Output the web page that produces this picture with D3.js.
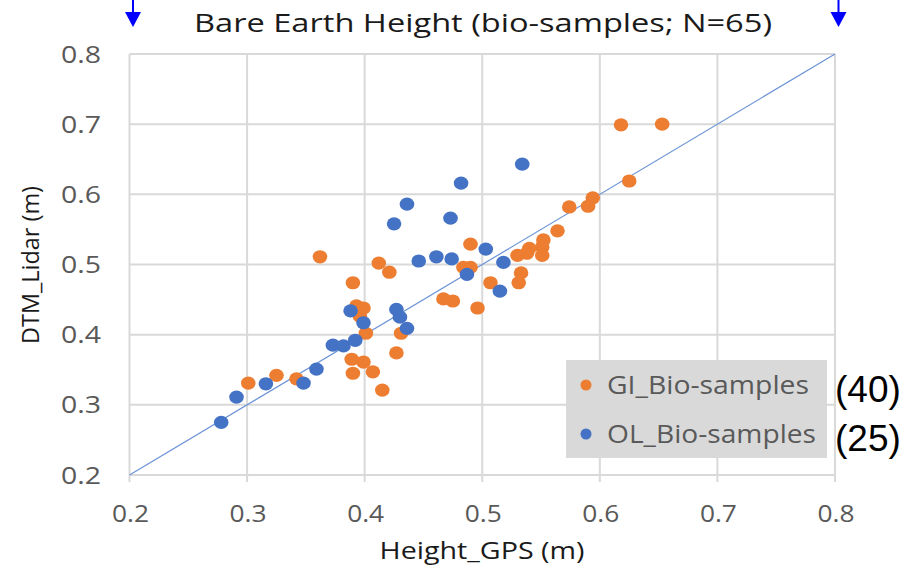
<!DOCTYPE html>
<html lang="en">
<head>
<meta charset="UTF-8">
<title>Bare Earth Height</title>
<script src="https://d3js.org/d3.v7.min.js"></script>
<style>
  body { margin: 0; background: #fff; }
  svg { display: block; }
</style>
</head>
<body>
<svg width="913" height="569"></svg>
<script>
// GI bio-samples (orange), [Height_GPS, DTM_Lidar]
const giX = [0.618, 0.653, 0.625, 0.594, 0.590, 0.574, 0.564, 0.552, 0.551, 0.540,
             0.538, 0.530, 0.551, 0.533, 0.531, 0.507, 0.490, 0.484, 0.490, 0.467,
             0.475, 0.496, 0.362, 0.412, 0.421, 0.390, 0.393, 0.399, 0.396, 0.401,
             0.431, 0.427, 0.389, 0.399, 0.390, 0.407, 0.415, 0.301, 0.325, 0.342];
const giY = [0.699, 0.700, 0.619, 0.595, 0.583, 0.582, 0.548, 0.535, 0.525, 0.523,
             0.516, 0.513, 0.513, 0.488, 0.474, 0.474, 0.529, 0.496, 0.496, 0.451,
             0.448, 0.438, 0.511, 0.502, 0.489, 0.474, 0.441, 0.438, 0.426, 0.402,
             0.402, 0.374, 0.365, 0.361, 0.345, 0.347, 0.321, 0.331, 0.342, 0.337];
// OL bio-samples (blue)
const olX = [0.278, 0.291, 0.316, 0.348, 0.359, 0.373, 0.382, 0.392, 0.388, 0.399,
             0.427, 0.430, 0.436, 0.446, 0.461, 0.474, 0.487, 0.503, 0.518, 0.515,
             0.425, 0.436, 0.473, 0.482, 0.534];
const olY = [0.275, 0.311, 0.330, 0.331, 0.351, 0.385, 0.384, 0.392, 0.434, 0.417,
             0.436, 0.425, 0.409, 0.505, 0.511, 0.508, 0.486, 0.522, 0.503, 0.462,
             0.558, 0.586, 0.566, 0.616, 0.643];
const ticks = [0.2, 0.3, 0.4, 0.5, 0.6, 0.7, 0.8];
const seriesNames = ["GI_Bio-samples", "OL_Bio-samples"];
const seriesCounts = ["(40)", "(25)"];
const colors = ["#ED7D31", "#4472C4"];

const svg = d3.select("svg");
const font = "'Open Sans', sans-serif";

const x = d3.scaleLinear().domain([0.2, 0.8]).range([129.5, 835]);
const y = d3.scaleLinear().domain([0.2, 0.8]).range([475, 54]);

// gridlines
svg.append("g").selectAll("line.v").data(ticks).enter().append("line")
  .attr("x1", d => x(d)).attr("x2", d => x(d))
  .attr("y1", y(0.8)).attr("y2", y(0.2) + 7)
  .attr("stroke", "#d9d9d9").attr("stroke-width", 2);
svg.append("g").selectAll("line.h").data(ticks).enter().append("line")
  .attr("x1", x(0.2)).attr("x2", x(0.8))
  .attr("y1", d => y(d)).attr("y2", d => y(d))
  .attr("stroke", "#d9d9d9").attr("stroke-width", 2);

// tick labels
svg.append("g").selectAll("text").data(ticks).enter().append("text")
  .attr("x", d => x(d) + 1).attr("y", 522)
  .attr("text-anchor", "middle")
  .attr("font-family", font).attr("font-size", 24).attr("fill", "#595959")
  .attr("textLength", 37).attr("lengthAdjust", "spacingAndGlyphs")
  .text(d => d.toFixed(1));
svg.append("g").selectAll("text").data(ticks).enter().append("text")
  .attr("x", 101).attr("y", d => y(d) + 8.5)
  .attr("text-anchor", "end")
  .attr("font-family", font).attr("font-size", 24).attr("fill", "#595959")
  .attr("textLength", 40).attr("lengthAdjust", "spacingAndGlyphs")
  .text(d => d.toFixed(1));

// 1:1 line
svg.append("line")
  .attr("x1", x(0.2)).attr("y1", y(0.2))
  .attr("x2", x(0.8)).attr("y2", y(0.8))
  .attr("stroke", "#6b93d6").attr("stroke-width", 1.2);

// points
const series = [
  d3.zip(giX, giY),
  d3.zip(olX, olY)
];
series.forEach((pts, i) => {
  svg.append("g").selectAll("ellipse").data(pts).enter().append("ellipse")
    .attr("cx", d => x(d[0])).attr("cy", d => y(d[1]))
    .attr("rx", 7.3).attr("ry", 6.6)
    .attr("fill", colors[i]);
});

// title
svg.append("text")
  .attr("x", 483).attr("y", 32)
  .attr("text-anchor", "middle")
  .attr("font-family", font).attr("font-size", 26).attr("fill", "#1a1a1a")
  .attr("textLength", 578).attr("lengthAdjust", "spacingAndGlyphs")
  .text("Bare Earth Height (bio-samples; N=65)");

// axis titles
svg.append("text")
  .attr("x", 482).attr("y", 559)
  .attr("text-anchor", "middle")
  .attr("font-family", font).attr("font-size", 23).attr("fill", "#1a1a1a")
  .attr("textLength", 205).attr("lengthAdjust", "spacingAndGlyphs")
  .text("Height_GPS (m)");
svg.append("text")
  .attr("transform", "translate(39,265) rotate(-90)")
  .attr("text-anchor", "middle")
  .attr("font-family", font).attr("font-size", 23).attr("fill", "#1a1a1a")
  .attr("textLength", 158).attr("lengthAdjust", "spacingAndGlyphs")
  .text("DTM_Lidar (m)");

// legend
const lg = svg.append("g");
lg.append("rect")
  .attr("x", 566).attr("y", 360).attr("width", 261).attr("height", 98)
  .attr("fill", "#d9d9d9");
seriesNames.forEach((name, i) => {
  const cy = 385 + i * 49;
  lg.append("circle").attr("cx", 586).attr("cy", cy).attr("r", 5.5).attr("fill", colors[i]);
  lg.append("text")
    .attr("x", 607).attr("y", cy + 9)
    .attr("font-family", font).attr("font-size", 26).attr("fill", "#595959")
    .attr("textLength", i === 0 ? 202 : 209).attr("lengthAdjust", "spacingAndGlyphs")
    .text(name);
  svg.append("text")
    .attr("x", 835).attr("y", cy + 17)
    .attr("font-family", "'Liberation Sans', Arial, sans-serif")
    .attr("font-size", 37).attr("fill", "#000")
    .text(seriesCounts[i]);
});

// arrows at 0.2 and 0.8
[0.2, 0.8].forEach(v => {
  const ax = x(v) + 3.5;
  svg.append("line")
    .attr("x1", ax).attr("x2", ax).attr("y1", 0).attr("y2", 14)
    .attr("stroke", "#0000ff").attr("stroke-width", 2);
  svg.append("path")
    .attr("d", `M${ax - 8},12 L${ax + 8},12 L${ax},27 Z`)
    .attr("fill", "#0000ff");
});
</script>
</body>
</html>
